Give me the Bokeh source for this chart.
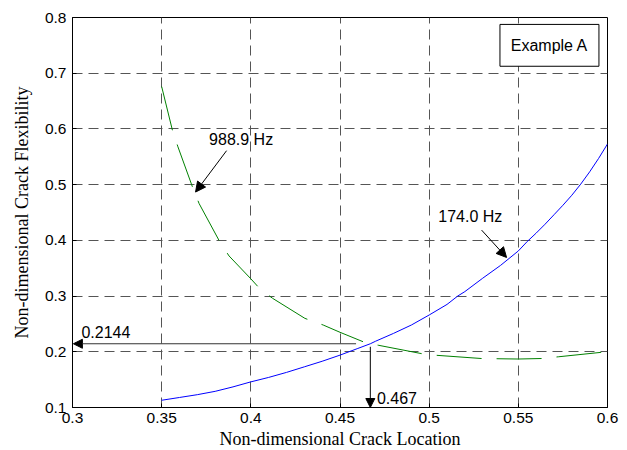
from bokeh.plotting import figure
from bokeh.models import Arrow, NormalHead, Label, FixedTicker
from bokeh.embed import file_html
from bokeh.resources import INLINE

# ---- data ----
blue_x = [0.35, 0.36, 0.37, 0.38, 0.39, 0.40, 0.41, 0.42, 0.43, 0.44, 0.45, 0.46, 0.467,
          0.47, 0.48, 0.49, 0.50, 0.51, 0.516, 0.52, 0.53, 0.54, 0.55, 0.555, 0.56, 0.565,
          0.57, 0.575, 0.58, 0.585, 0.59, 0.595, 0.60]
blue_y = [0.113, 0.118, 0.123, 0.129, 0.137, 0.146, 0.154, 0.163, 0.173, 0.183, 0.194, 0.206, 0.2144,
          0.219, 0.233, 0.248, 0.266, 0.285, 0.300, 0.308, 0.332, 0.355, 0.381, 0.398, 0.413, 0.429,
          0.446, 0.463, 0.481, 0.501, 0.523, 0.547, 0.573]

green_x = [0.350, 0.356, 0.359, 0.3676, 0.371, 0.383, 0.3878, 0.400, 0.4054, 0.4122, 0.4303,
           0.4406, 0.450, 0.463, 0.467, 0.4714, 0.4957, 0.5032, 0.5294, 0.550, 0.5639, 0.5724, 0.5995]
green_y = [0.676, 0.598, 0.569, 0.493, 0.466, 0.395, 0.372, 0.331, 0.312, 0.296, 0.260,
           0.248, 0.235, 0.218, 0.2144, 0.2118, 0.1967, 0.1939, 0.1879, 0.187, 0.188, 0.191, 0.200]

x_ticks = [0.3, 0.35, 0.4, 0.45, 0.5, 0.55, 0.6]
x_tick_labels = ["0.3", "0.35", "0.4", "0.45", "0.5", "0.55", "0.6"]
y_ticks = [0.1, 0.2, 0.3, 0.4, 0.5, 0.6, 0.7, 0.8]
y_tick_labels = ["0.1", "0.2", "0.3", "0.4", "0.5", "0.6", "0.7", "0.8"]

cross_x = 0.467
cross_y = 0.2144

# annotation anchors (data units)
label_988 = (0.3766, 0.581)
arrow_988 = (0.3864, 0.561, 0.369, 0.4867)
label_174 = (0.5051, 0.4422)
arrow_174 = (0.5294, 0.4184, 0.5434, 0.3693)
label_y_val = (0.305, 0.2357)
label_x_val = (0.4707, 0.1167)
box_ex = (0.5397, 0.5952, 0.7876, 0.7125)

SANS = "Liberation Sans"
SERIF = "Liberation Serif"

p = figure(frame_width=535, frame_height=390, x_range=(0.3, 0.6), y_range=(0.1, 0.8),
           output_backend="svg", toolbar_location=None,
           min_border_left=72, min_border_right=19, min_border_top=17, min_border_bottom=42,
           background_fill_color="white", border_fill_color="white")
p.outline_line_color = "black"
p.outline_line_width = 1

p.xaxis.ticker = FixedTicker(ticks=x_ticks)
p.yaxis.ticker = FixedTicker(ticks=y_ticks)
p.xaxis.major_label_overrides = dict(zip(x_ticks, x_tick_labels))
p.yaxis.major_label_overrides = dict(zip(y_ticks, y_tick_labels))

for ax in (p.xaxis, p.yaxis):
    ax.axis_line_color = "black"
    ax.major_tick_in = 4
    ax.major_tick_out = 0
    ax.minor_tick_line_color = None
    ax.major_tick_line_color = "black"
    ax.major_label_text_font = SANS
    ax.major_label_text_font_size = "15.5px"
    ax.major_label_text_color = "black"
    ax.axis_label_text_font = SERIF
    ax.axis_label_text_font_size = "18px"
    ax.axis_label_text_font_style = "normal"
    ax.axis_label_text_color = "black"

p.xaxis.axis_label = "Non-dimensional Crack Location"
p.yaxis.axis_label = "Non-dimensional Crack Flexibility"
p.xaxis.major_label_standoff = 5
p.xaxis.axis_label_standoff = 3
p.yaxis.major_label_standoff = 6
p.yaxis.axis_label_standoff = 10

for g in (p.xgrid, p.ygrid):
    g.grid_line_color = "#555555"
    g.grid_line_dash = "10 6"
    g.grid_line_width = 1

p.line(green_x, green_y, line_color="#008000", line_width=1, line_dash="45 15")
p.line(blue_x, blue_y, line_color="#0000FF", line_width=1)

# crossing arrows
p.add_layout(Arrow(end=NormalHead(size=9, fill_color="black", line_color="black"),
                   x_start=0.459, y_start=cross_y, x_end=0.3005, y_end=cross_y,
                   line_color="#333333", line_width=1))
p.add_layout(Arrow(end=NormalHead(size=9, fill_color="black", line_color="black"),
                   x_start=cross_x, y_start=0.209, x_end=cross_x, y_end=0.1,
                   line_color="black", line_width=1))

p.add_layout(Arrow(end=NormalHead(size=10, fill_color="black", line_color="black"),
                   x_start=arrow_988[0], y_start=arrow_988[1], x_end=arrow_988[2], y_end=arrow_988[3],
                   line_color="black", line_width=1))
p.add_layout(Arrow(end=NormalHead(size=10, fill_color="black", line_color="black"),
                   x_start=arrow_174[0], y_start=arrow_174[1], x_end=arrow_174[2], y_end=arrow_174[3],
                   line_color="black", line_width=1))

def lab(txt, pos, align="left"):
    p.add_layout(Label(x=pos[0], y=pos[1], text=txt, text_font=SANS, text_font_size="16px",
                       text_baseline="middle", text_align=align, text_color="black"))

lab("988.9 Hz", label_988)
lab("174.0 Hz", label_174)
lab("0.2144", label_y_val)
lab("0.467", label_x_val)

p.quad(left=[box_ex[0]], right=[box_ex[1]], top=[box_ex[2]], bottom=[box_ex[3]],
       fill_color="white", line_color="black", line_width=1)
lab("Example A", ((box_ex[0] + box_ex[1]) / 2, (box_ex[2] + box_ex[3]) / 2), align="center")

open("out.html", "w").write(file_html(p, INLINE))
